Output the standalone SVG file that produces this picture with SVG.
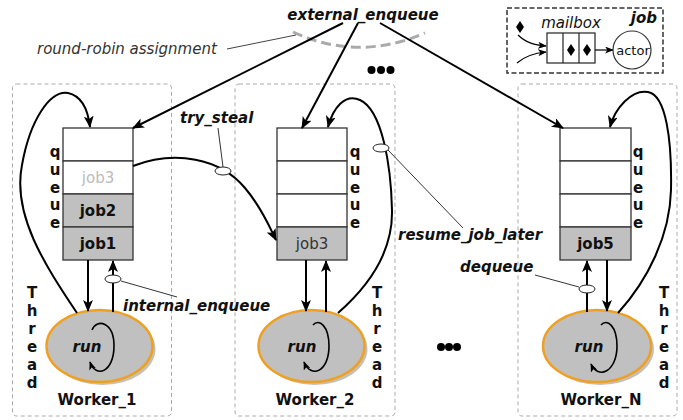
<svg xmlns="http://www.w3.org/2000/svg" width="683" height="420" viewBox="0 0 683 420">
<defs>
<style>
text{font-family:"DejaVu Sans","Liberation Sans",sans-serif;font-size:15px;fill:#111}
.bi{font-weight:bold;font-style:italic}
.b{font-weight:bold}
.it{font-style:italic}
.mid{text-anchor:middle}
.wbox{fill:none;stroke:#aaa;stroke-width:1;stroke-dasharray:4,3}
.cell{fill:#fff;stroke:#333;stroke-width:1.3}
.full{fill:#c0c0c0;stroke:#333;stroke-width:1.3}
.conn{fill:none;stroke:#000;stroke-width:2}
.thin{fill:none;stroke:#333;stroke-width:1}
.tag{fill:#fff;stroke:#222;stroke-width:1}
.worker{fill:#c0c0c0;stroke:#f0a020;stroke-width:2.5}
.shadow{fill:#a09482;opacity:0.6}
.dot{fill:#000}
</style>
<marker id="ah" viewBox="0 0 12 10" refX="11" refY="5" markerWidth="12" markerHeight="10" markerUnits="userSpaceOnUse" orient="auto"><path d="M0,0 L12,5 L0,10 L3,5 z" fill="#000"/></marker>
<marker id="ahs" viewBox="0 0 10 8" refX="9" refY="4" markerWidth="9" markerHeight="7" markerUnits="userSpaceOnUse" orient="auto"><path d="M0,0 L10,4 L0,8 L2.5,4 z" fill="#000"/></marker>
</defs>
<rect width="683" height="420" fill="#fff"/>

<g id="legend-job">
<rect x="507" y="8" width="156" height="65" fill="none" stroke="#333" stroke-width="1.5" stroke-dasharray="5,2.5"/>
<text x="657" y="23" class="bi" text-anchor="end">job</text>
<text x="571" y="28" class="it mid">mailbox</text>
<rect x="547" y="33" width="48" height="30" fill="#fff" stroke="#222" stroke-width="1.2"/>
<line x1="563" y1="33" x2="563" y2="63" stroke="#222" stroke-width="1.2"/>
<line x1="579" y1="33" x2="579" y2="63" stroke="#222" stroke-width="1.2"/>
<path d="M571,44 L575,50 L571,56 L567,50 z" fill="#000"/>
<path d="M587,44 L591,50 L587,56 L583,50 z" fill="#000"/>
<path d="M520,21 L524,27 L520,33 L516,27 z" fill="#000"/>
<path d="M518,35 C526,43 535,45 546,46" fill="none" stroke="#000" stroke-width="1.2" marker-end="url(#ahs)"/>
<path d="M517,63 C525,56 535,53 546,52" fill="none" stroke="#000" stroke-width="1.2" marker-end="url(#ahs)"/>
<path d="M595,50 L613,50" fill="none" stroke="#000" stroke-width="1.2" marker-end="url(#ahs)"/>
<circle cx="632" cy="50" r="19" fill="#fff" stroke="#333" stroke-width="1.2"/>
<text x="633" y="55" class="mid" style="font-size:13px">actor</text>
</g>

<g id="round-robin">
<path d="M293,32 Q358,62 425,33" fill="none" stroke="#aaa" stroke-width="3" stroke-dasharray="10,5"/>
<text x="37" y="54" class="it" style="fill:#333">round-robin assignment</text>
<line x1="227" y1="49" x2="296" y2="35" stroke="#444" stroke-width="1"/>
</g>

<g id="external_enqueue">
<text x="363" y="20" class="bi mid">external_enqueue</text>
</g>

<g id="dots">
<circle cx="371.5" cy="70" r="4" class="dot"/>
<circle cx="381" cy="70" r="4" class="dot"/>
<circle cx="390.5" cy="70" r="4" class="dot"/>
<circle cx="441" cy="347" r="4" class="dot"/>
<circle cx="449" cy="347" r="4" class="dot"/>
<circle cx="457" cy="347" r="4" class="dot"/>
</g>

<g id="worker1">
<rect x="12.5" y="84" width="159" height="332" rx="4" class="wbox"/>
<rect x="63" y="128" width="70" height="33" class="cell"/>
<rect x="63" y="161" width="70" height="33" class="cell"/>
<rect x="63" y="194" width="70" height="33" class="full"/>
<rect x="63" y="227" width="70" height="33" class="full"/>
<text x="98" y="183" class="mid" style="fill:#bbb">job3</text>
<text x="98" y="216" class="b mid">job2</text>
<text x="98" y="249" class="b mid">job1</text>
<text x="55" class="b mid"><tspan x="55" y="157">q</tspan><tspan x="55" y="175">u</tspan><tspan x="55" y="192.5">e</tspan><tspan x="55" y="210">u</tspan><tspan x="55" y="228">e</tspan></text>
<text x="32" class="b mid"><tspan x="32" y="298">T</tspan><tspan x="32" y="316">h</tspan><tspan x="32" y="334">r</tspan><tspan x="32" y="352">e</tspan><tspan x="32" y="370">a</tspan><tspan x="32" y="388">d</tspan></text>
<ellipse cx="102.5" cy="349" rx="53" ry="36" class="shadow"/>
<ellipse cx="99.5" cy="346" rx="53" ry="36" class="worker"/>
<text x="87" y="352" class="bi mid">run</text>
<path d="M92,330 C97,318 114,322 114,346 C114,372 96,379 90,362" fill="none" stroke="#000" stroke-width="1.6" marker-end="url(#ahs)"/>
<text x="97" y="405" class="b mid">Worker_1</text>
</g>

<g id="worker2">
<rect x="235" y="84" width="160" height="332" rx="4" class="wbox"/>
<rect x="277" y="128" width="70" height="33" class="cell"/>
<rect x="277" y="161" width="70" height="33" class="cell"/>
<rect x="277" y="194" width="70" height="33" class="cell"/>
<rect x="277" y="227" width="70" height="33" class="full"/>
<text x="312" y="249" class="mid" style="fill:#333">job3</text>
<text x="355" class="b mid"><tspan x="355" y="157">q</tspan><tspan x="355" y="175">u</tspan><tspan x="355" y="192.5">e</tspan><tspan x="355" y="210">u</tspan><tspan x="355" y="228">e</tspan></text>
<text x="377" class="b mid"><tspan x="377" y="298">T</tspan><tspan x="377" y="316">h</tspan><tspan x="377" y="334">r</tspan><tspan x="377" y="352">e</tspan><tspan x="377" y="370">a</tspan><tspan x="377" y="388">d</tspan></text>
<ellipse cx="314.5" cy="349" rx="53" ry="36" class="shadow"/>
<ellipse cx="311.5" cy="346" rx="53" ry="36" class="worker"/>
<text x="302" y="352" class="bi mid">run</text>
<path d="M313,325 C319,318 329,326 329,346 C329,372 311,379 304,362" fill="none" stroke="#000" stroke-width="1.6" marker-end="url(#ahs)"/>
<text x="315" y="405" class="b mid">Worker_2</text>
</g>

<g id="workerN">
<rect x="518" y="84" width="159" height="332" rx="4" class="wbox"/>
<rect x="560" y="128" width="71" height="33" class="cell"/>
<rect x="560" y="161" width="71" height="33" class="cell"/>
<rect x="560" y="194" width="71" height="33" class="cell"/>
<rect x="560" y="227" width="71" height="33" class="full"/>
<text x="595.5" y="249" class="b mid">job5</text>
<text x="638" class="b mid"><tspan x="638" y="157">q</tspan><tspan x="638" y="175">u</tspan><tspan x="638" y="192.5">e</tspan><tspan x="638" y="210">u</tspan><tspan x="638" y="228">e</tspan></text>
<text x="664" class="b mid"><tspan x="664" y="298">T</tspan><tspan x="664" y="316">h</tspan><tspan x="664" y="334">r</tspan><tspan x="664" y="352">e</tspan><tspan x="664" y="370">a</tspan><tspan x="664" y="388">d</tspan></text>
<ellipse cx="600" cy="349" rx="54" ry="36" class="shadow"/>
<ellipse cx="597" cy="346" rx="54" ry="36" class="worker"/>
<text x="589" y="352" class="bi mid">run</text>
<path d="M601,325 C607,318 617,326 617,346 C617,372 598,380 591,364" fill="none" stroke="#000" stroke-width="1.6" marker-end="url(#ahs)"/>
<text x="601" y="405" class="b mid">Worker_N</text>
</g>

<g id="connectors">
<path d="M343,23 L133,128" class="conn" marker-end="url(#ah)"/>
<path d="M358,23 L302,128" class="conn" marker-end="url(#ah)"/>
<path d="M380,23 L563,128" class="conn" marker-end="url(#ah)"/>
<path d="M77,313 C45,265 12,215 22,165 C30,120 50,90 68,93 C82,96 88,110 90,127" class="conn" marker-end="url(#ah)"/>
<path d="M338,313 C370,285 393,250 392,210 C391,165 382,110 360,100 C345,93 333,108 328,127" class="conn" marker-end="url(#ah)"/>
<path d="M618,313 C648,280 670,235 671,190 C672,140 666,95 648,92 C632,89 615,108 610,127" class="conn" marker-end="url(#ah)"/>
<path d="M133,166 C175,150 220,158 245,188 C262,208 270,228 276,240" class="conn" marker-end="url(#ah)"/>
<path d="M88,260 L88,311" class="conn" marker-end="url(#ah)"/>
<path d="M113,312 L113,261" class="conn" marker-end="url(#ah)"/>
<path d="M306,260 L306,311" class="conn" marker-end="url(#ah)"/>
<path d="M326,312 L326,261" class="conn" marker-end="url(#ah)"/>
<path d="M587,312 L587,261" class="conn" marker-end="url(#ah)"/>
<path d="M607,260 L607,311" class="conn" marker-end="url(#ah)"/>
</g>

<g id="labels">
<text x="180" y="123" class="bi">try_steal</text>
<line x1="218" y1="128" x2="223" y2="167" class="thin"/>
<ellipse cx="223" cy="171" rx="8" ry="4" class="tag"/>
<text x="123" y="311" class="bi">internal_enqueue</text>
<line x1="121" y1="281" x2="177" y2="297" class="thin"/>
<ellipse cx="113" cy="279" rx="8" ry="4" class="tag"/>
<text x="398" y="240" class="bi">resume_job_later</text>
<line x1="388" y1="150" x2="463" y2="228" class="thin"/>
<ellipse cx="381" cy="148" rx="8" ry="4" class="tag"/>
<text x="460" y="272" class="bi">dequeue</text>
<line x1="535" y1="275" x2="579" y2="287" class="thin"/>
<ellipse cx="587" cy="289" rx="8" ry="4" class="tag"/>
</g>
</svg>
